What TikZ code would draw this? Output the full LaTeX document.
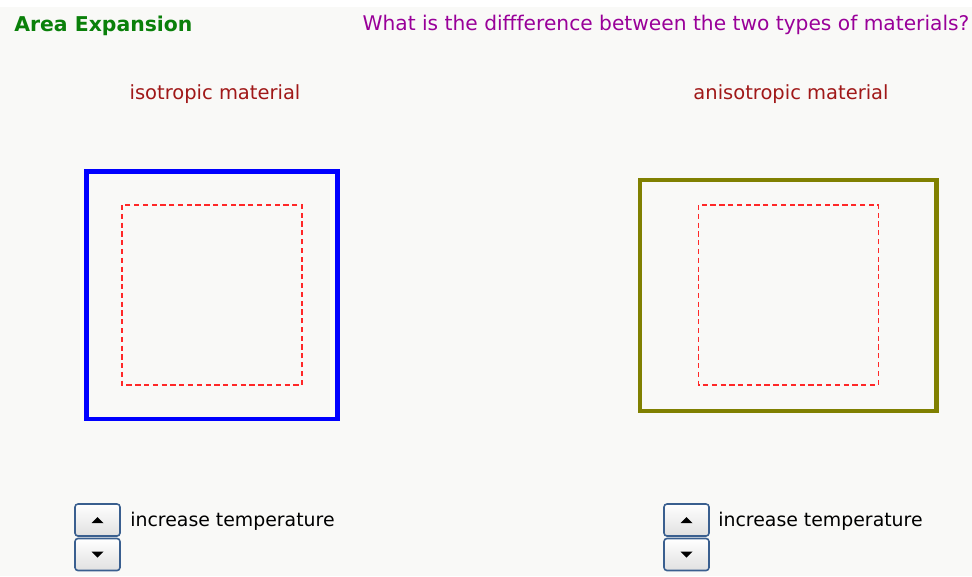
\documentclass[tikz,border=0pt]{standalone}
\usepackage{fontspec}
\setmainfont{DejaVu Sans}
\definecolor{pagebg}{HTML}{F9F9F7}
\definecolor{titlegreen}{HTML}{0A800A}
\definecolor{askpurple}{HTML}{990099}
\definecolor{labelred}{HTML}{A01818}
\definecolor{rimolive}{HTML}{808000}
\definecolor{btnrim}{HTML}{3A5F8F}
\definecolor{dashred}{HTML}{FF2828}
\begin{document}
\begin{tikzpicture}[x=0.02cm,y=-0.02cm,
  txt/.style={inner sep=0pt,font=\fontsize{10.75}{13}\selectfont},
  btn/.style={draw=btnrim,line width=0.9pt,rounded corners=1.7pt,top color=white,bottom color=black!12,minimum width=0.9cm,minimum height=0.64cm,inner sep=0pt},
  inner/.style={draw=dashred,line width=0.7pt,dash pattern=on 3pt off 2pt}]
\useasboundingbox (0,0) rectangle (972,576);
\fill[white] (0,0) rectangle (972,576);
\fill[pagebg] (0,7) rectangle (972,576);
% header
\node[txt,anchor=base west,text=titlegreen,font=\fontsize{11.6}{14}\selectfont\bfseries] (title) at (14,31) {Area Expansion};
\node[txt,anchor=base,text=askpurple,font=\fontsize{11.5}{14}\selectfont] (ask) at (666,30) {What is the diffference between the two types of materials?};
% labels
\node[txt,anchor=base,text=labelred,font=\fontsize{11.1}{13}\selectfont] (isoname) at (215,99) {isotropic material};
\node[txt,anchor=base,text=labelred,font=\fontsize{11.1}{13}\selectfont] (anisoname) at (791,99) {anisotropic material};
% isotropic plate
\draw[draw=blue,line width=2.8pt] (86.5,171.5) rectangle (337.5,419);
\draw[inner] (122,205) rectangle (302,385);
% anisotropic plate
\draw[draw=rimolive,line width=2.8pt] (640,180) rectangle (936.5,411);
\draw[inner] (698.5,205) rectangle (878.5,385);
% controls
\node[btn] (upL) at (97.5,520) {};
\node[btn] (downL) at (97.5,554.5) {};
\node[btn] (upR) at (686.5,520) {};
\node[btn] (downR) at (686.5,554.5) {};
\foreach \b in {upL,upR}
  \fill[shift={(\b.center)}] (-6,3) -- (6,3) -- (0,-3) -- cycle;
\foreach \b in {downL,downR}
  \fill[shift={(\b.center)}] (-6,-3) -- (6,-3) -- (0,3) -- cycle;
\node[txt,anchor=base west] (tempL) at (130,526) {increase temperature};
\node[txt,anchor=base west] (tempR) at (718,526) {increase temperature};
\end{tikzpicture}
\end{document}
